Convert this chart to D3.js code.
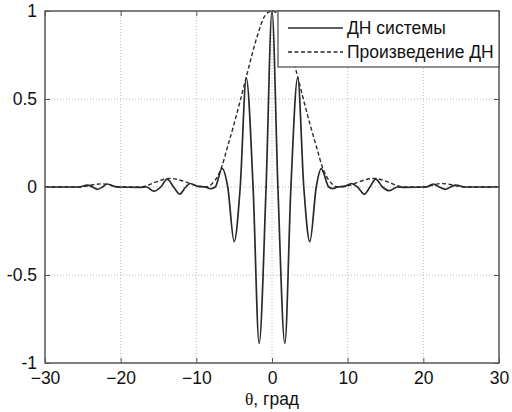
<!DOCTYPE html>
<html>
<head>
<meta charset="utf-8">
<script src="https://cdn.jsdelivr.net/npm/d3@7"></script>
<style>
  body { margin: 0; background: #fff; }
  text { font-family: "Liberation Sans", Arial, sans-serif; fill: #111; }
</style>
</head>
<body>
<div id="chart"></div>
<script>
// Values (theta in degrees)
const systemTheta = [-30, -25.5, -24.4, -23.7, -23.1, -22.4, -21.8, -20.5, -17.5, -16.6, -15.6, -14.7, -13.85, -13.0, -12.2, -11.4, -10.8, -9.8, -8.8, -8.2, -7.5, -6.6, -5.85, -5.0, -4.2, -3.4, -2.5, -1.7, -0.78, 0, 0.78, 1.7, 2.5, 3.4, 4.2, 5.0, 5.85, 6.5, 7.5, 8.0, 8.7, 9.6, 10.5, 11.3, 12.2, 12.95, 13.7, 14.6, 15.5, 16.6, 17.5, 20.4, 21.3, 22.1, 22.9, 23.6, 24.3, 25.5, 30];
const systemValues = [0, 0, 0.011, 0, -0.013, 0, 0.017, 0, -0.002, 0, -0.024, 0, 0.045, 0, -0.04, 0, 0.02, 0.004, 0, -0.01, 0, 0.106, 0, -0.31, 0, 0.62, 0, -0.888, 0, 1, 0, -0.888, 0, 0.623, 0, -0.31, 0, 0.104, 0, -0.009, 0, 0.004, 0.02, 0, -0.04, 0, 0.045, 0, -0.021, 0, -0.002, 0, 0.017, 0, -0.013, 0, 0.011, 0, 0];

const productTheta = [-30, -25.3, -24.5, -22.5, -20.8, -20.2, -17.3, -16.8, -15.5, -13.5, -11.5, -10.2, -9.4, -8.5, -7.9, -7.2, -6.6, -6.0, -5.0, -4.2, -3.4, -2.0, -0.9, 0, 0.9, 2.0, 3.4, 4.2, 5.0, 6.0, 6.6, 7.2, 7.9, 8.5, 9.4, 10.2, 11.5, 13.5, 15.5, 16.8, 17.3, 20.2, 20.8, 22.4, 24.5, 25.3, 30];
const productValues = [0, 0, 0.006, 0.018, 0.005, 0, 0, 0.004, 0.026, 0.049, 0.03, 0.009, 0.003, 0.002, 0.02, 0.06, 0.12, 0.21, 0.36, 0.49, 0.625, 0.85, 0.975, 1, 0.975, 0.85, 0.625, 0.49, 0.36, 0.21, 0.12, 0.06, 0.02, 0.002, 0.003, 0.009, 0.03, 0.049, 0.026, 0.004, 0, 0, 0.005, 0.02, 0.006, 0, 0];

const xTicks = [-30, -20, -10, 0, 10, 20, 30];
const yTicks = [-1, -0.5, 0, 0.5, 1];
const legendLabels = ["ДН системы", "Произведение ДН"];

const width = 512;
const height = 412;
const margin = { top: 11, right: 13, bottom: 49, left: 45 };

const svg = d3
  .select("#chart")
  .append("svg")
  .attr("width", width)
  .attr("height", height);

const x = d3
  .scaleLinear()
  .domain([-30, 30])
  .range([margin.left, width - margin.right]);
const y = d3
  .scaleLinear()
  .domain([-1, 1])
  .range([height - margin.bottom, margin.top]);

// Grid
const grid = svg.append("g").attr("stroke", "#b8b8b8").attr("stroke-dasharray", "1,2");
grid
  .selectAll("line.gx")
  .data(xTicks.slice(1, -1))
  .enter()
  .append("line")
  .attr("x1", (d) => x(d))
  .attr("x2", (d) => x(d))
  .attr("y1", y(-1))
  .attr("y2", y(1));
grid
  .selectAll("line.gy")
  .data(yTicks.slice(1, -1))
  .enter()
  .append("line")
  .attr("x1", x(-30))
  .attr("x2", x(30))
  .attr("y1", (d) => y(d))
  .attr("y2", (d) => y(d));

// Curves
const lineSystem = d3
  .line()
  .x((d, i) => x(systemTheta[i]))
  .y((d) => y(d))
  .curve(d3.curveMonotoneX);
const lineProduct = d3
  .line()
  .x((d, i) => x(productTheta[i]))
  .y((d) => y(d))
  .curve(d3.curveMonotoneX);

svg
  .append("path")
  .attr("d", lineProduct(productValues))
  .attr("fill", "none")
  .attr("stroke", "#2a2a2a")
  .attr("stroke-width", 1.4)
  .attr("stroke-dasharray", "4,2.5");
svg
  .append("path")
  .attr("d", lineSystem(systemValues))
  .attr("fill", "none")
  .attr("stroke", "#2a2a2a")
  .attr("stroke-width", 1.7);

// Axes (inward ticks, box)
const tickLen = 5;
svg
  .append("g")
  .attr("transform", `translate(0,${y(-1)})`)
  .call(d3.axisBottom(x).tickValues(xTicks).tickSize(-tickLen).tickPadding(9).tickFormat(d3.format("d")))
  .call((g) => g.select(".domain").remove())
  .call((g) => g.selectAll("line").attr("stroke", "#555"))
  .call((g) => g.selectAll("text").attr("font-size", 17.5).attr("fill", "#111"));
svg
  .append("g")
  .attr("transform", `translate(0,${y(1)})`)
  .call(d3.axisTop(x).tickValues(xTicks).tickSize(-tickLen).tickFormat(""))
  .call((g) => g.select(".domain").remove())
  .call((g) => g.selectAll("line").attr("stroke", "#555"));
svg
  .append("g")
  .attr("transform", `translate(${x(-30)},0)`)
  .call(d3.axisLeft(y).tickValues(yTicks).tickSize(-tickLen).tickPadding(8).tickFormat((d) => String(d)))
  .call((g) => g.select(".domain").remove())
  .call((g) => g.selectAll("line").attr("stroke", "#555"))
  .call((g) => g.selectAll("text").attr("font-size", 17.5).attr("fill", "#111"));
svg
  .append("g")
  .attr("transform", `translate(${x(30)},0)`)
  .call(d3.axisRight(y).tickValues(yTicks).tickSize(-tickLen).tickFormat(""))
  .call((g) => g.select(".domain").remove())
  .call((g) => g.selectAll("line").attr("stroke", "#555"));

svg
  .append("rect")
  .attr("x", x(-30))
  .attr("y", y(1))
  .attr("width", x(30) - x(-30))
  .attr("height", y(-1) - y(1))
  .attr("fill", "none")
  .attr("stroke", "#555")
  .attr("stroke-width", 1.5);

// X label
const xl = svg
  .append("text")
  .attr("x", x(0))
  .attr("y", 405)
  .attr("text-anchor", "middle")
  .attr("font-size", 17.5);
xl.append("tspan").attr("font-family", "Liberation Serif, serif").text("θ");
xl.append("tspan").text(", град");

// Legend
const lg = svg.append("g");
lg.append("rect")
  .attr("x", 278)
  .attr("y", y(1))
  .attr("width", x(30) - 278)
  .attr("height", 56)
  .attr("fill", "#fff")
  .attr("stroke", "#555")
  .attr("stroke-width", 1.3);
legendLabels.forEach((label, i) => {
  const ly = 28 + i * 24;
  lg.append("line")
    .attr("x1", 288)
    .attr("x2", 343)
    .attr("y1", ly)
    .attr("y2", ly)
    .attr("stroke", "#2a2a2a")
    .attr("stroke-width", i === 0 ? 1.5 : 1.3)
    .attr("stroke-dasharray", i === 0 ? null : "4,2.5");
  lg.append("text")
    .attr("x", 347)
    .attr("y", ly + 6)
    .attr("font-size", 17.5)
    .text(label);
});
</script>
</body>
</html>
